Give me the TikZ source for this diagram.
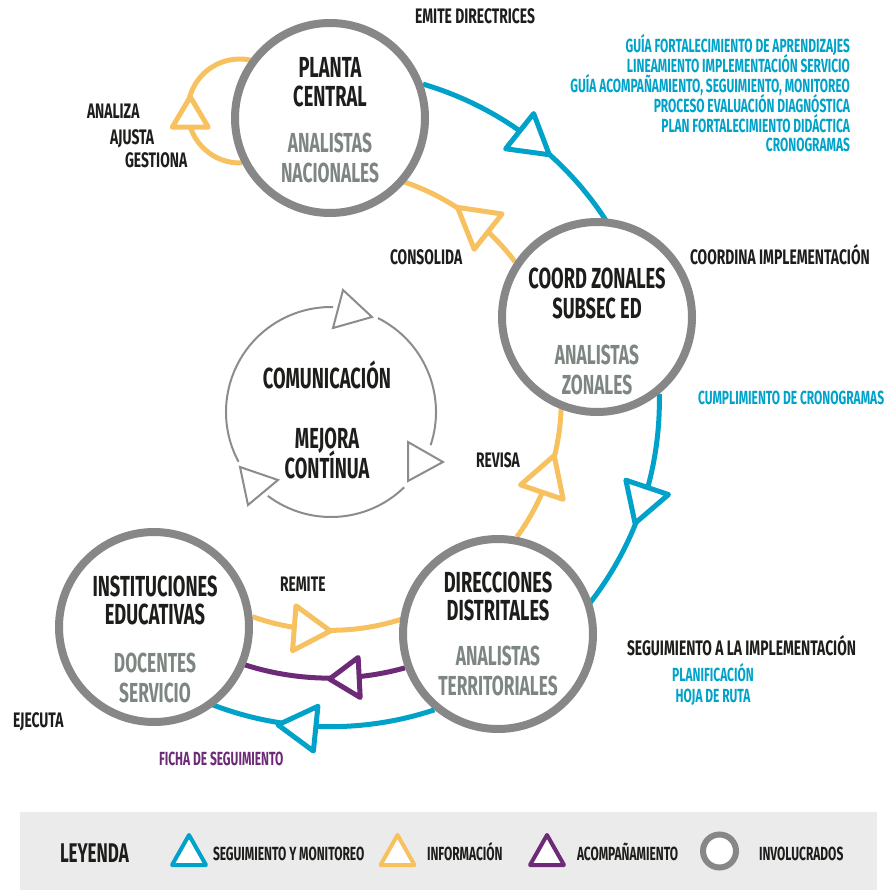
\documentclass[tikz,border=0pt]{standalone}
\usepackage{fontspec}
\newfontfamily\bb[FakeStretch=0.63]{Fira Sans}
\newfontfamily\bbw[FakeStretch=0.66]{Fira Sans}
\usetikzlibrary{calc}
\pgfdeclarelayer{bg}
\pgfsetlayers{bg,main}
\definecolor{txt}{HTML}{1D1D1B}
\definecolor{gtx}{HTML}{7E8681}
\definecolor{blu}{HTML}{00A2C9}
\definecolor{yel}{HTML}{F7C160}
\definecolor{pur}{HTML}{6D2A77}
\definecolor{cgr}{HTML}{878787}
\definecolor{lgr}{HTML}{8C8C8C}
\definecolor{legbg}{HTML}{EBEBEB}
\tikzset{
  txtbase/.style={inner sep=0pt, outer sep=0pt, text=txt},
  ttl/.style={txtbase, anchor=base, font=\bb\bfseries\fontsize{29}{29}\selectfont},
  subt/.style={txtbase, anchor=base, text=gtx, font=\bb\bfseries\fontsize{27.5}{27.5}\selectfont},
  lbl/.style={txtbase, anchor=base west, font=\bbw\bfseries\fontsize{21}{21}\selectfont},
  sml/.style={txtbase, font=\bb\bfseries\fontsize{19}{19}\selectfont},
  leglbl/.style={txtbase, anchor=base west, font=\bb\bfseries\fontsize{19}{19}\selectfont},
  actor/.style={circle, draw=cgr, line width=8pt, fill=white, minimum size=190pt, inner sep=0pt},
  bline/.style={draw=blu, line width=5pt},
  yline/.style={draw=yel, line width=5pt},
  pline/.style={draw=pur, line width=5pt},
  btri/.style={draw=blu, line width=5pt, line join=round, fill=white},
  ytri/.style={draw=yel, line width=5pt, line join=round, fill=white},
  ptri/.style={draw=pur, line width=5pt, line join=round, fill=white},
  cline/.style={draw=lgr, line width=2pt},
  ctri/.style={draw=lgr, line width=2pt, fill=white},
  legtri/.style={line width=4pt, line join=round, fill=white},
}
% style, centre, radius, base angle, tip angle, half width
\newcommand\arrtri[6]{%
  \path (#2) ++(#4:#3) coordinate (tb) (#2) ++(#5:#3) coordinate (tt);
  \draw[#1] ($(tb)!#6!90:(tt)$) -- (tt) -- ($(tb)!#6!-90:(tt)$) -- cycle;}
\begin{document}
\begin{tikzpicture}[x=1pt,y=1pt]
\useasboundingbox (0,0) rectangle (884,-890);

% involved actors
\node[actor] (pc) at (330,-118) {};
\node[actor] (cz) at (597,-317) {};
\node[actor] (dd) at (498,-634) {};
\node[actor] (ie) at (154,-627) {};
\coordinate (O) at (330,-400);
\coordinate (L) at (240,-112);
\coordinate (C) at (331,-412);

\begin{pgfonlayer}{bg}
  \fill[legbg] (20,-812) rectangle (877,-890);
  % seguimiento y monitoreo (blue)
  \draw[bline] (pc.20) arc[start angle=73.6, end angle=31, radius=329];
  \draw[bline] (cz.-51) arc[start angle=1.2, end angle=-39.5, radius=329];
  \draw[bline] (dd.-130) arc[start angle=-71.6, end angle=-113, radius=329];
  % informacion (yellow)
  \draw[yline] (cz.146) arc[start angle=37.1, end angle=73.5, radius=231];
  \draw[yline] (dd.79) arc[start angle=-36.1, end angle=-0.5, radius=231];
  \draw[yline] (ie.6) arc[start angle=-109.8, end angle=-70, radius=231];
  \draw[yline] (pc.207) arc[start angle=272.2, end angle=72, radius=52];
  % acompanamiento (purple)
  \draw[pline] (dd.200) arc[start angle=-74.4, end angle=-109.5, radius=279];
\end{pgfonlayer}

% arrow heads
\arrtri{btri}{O}{329}{54.8}{48.2}{22.5pt}
\arrtri{btri}{O}{329}{-15.4}{-22}{22.5pt}
\arrtri{btri}{O}{329}{-92.5}{-99.1}{22.5pt}
\arrtri{ytri}{O}{231}{46.8}{56.5}{22.5pt}
\arrtri{ytri}{O}{231}{-23.5}{-13.9}{22.5pt}
\arrtri{ytri}{O}{231}{-98.9}{-89.9}{22.5pt}
\arrtri{ytri}{L}{52}{197}{163}{18pt}
\arrtri{ptri}{O}{279}{-84}{-90.1}{20pt}

% communication cycle
\draw[cline] (C) ++(63.4:105) arc[start angle=63.4, end angle=-18.4, radius=105];
\draw[cline] (C) ++(-45.8:105) arc[start angle=-45.8, end angle=-127, radius=105];
\draw[cline] (C) ++(-151.7:105) arc[start angle=-151.7, end angle=-271.1, radius=105];
\draw[ctri] (343,-290) -- (372,-317) -- (333,-328) -- cycle;
\draw[ctri] (408,-442) -- (443,-462) -- (408,-481) -- cycle;
\draw[ctri] (240,-467) -- (278,-480) -- (248,-505) -- cycle;

% texts inside circles
\node[ttl] (pc1) at (330,-78) {PLANTA};
\node[ttl] (pc2) at (330,-107) {CENTRAL};
\node[subt] (pc3) at (330,-153) {ANALISTAS};
\node[subt] (pc4) at (330,-183) {NACIONALES};
\node[ttl] (cz1) at (597,-288) {COORD ZONALES};
\node[ttl] (cz2) at (597,-318) {SUBSEC ED};
\node[subt] (cz3) at (597,-364) {ANALISTAS};
\node[subt] (cz4) at (597,-394) {ZONALES};
\node[ttl] (dd1) at (498,-592) {DIRECCIONES};
\node[ttl] (dd2) at (498,-620) {DISTRITALES};
\node[subt] (dd3) at (498,-665) {ANALISTAS};
\node[subt] (dd4) at (498,-695) {TERRITORIALES};
\node[ttl] (ie1) at (155,-596) {INSTITUCIONES};
\node[ttl] (ie2) at (155,-624) {EDUCATIVAS};
\node[subt] (ie3) at (155,-672) {DOCENTES};
\node[subt] (ie4) at (155,-702) {SERVICIO};
\node[ttl] (cm1) at (327,-388) {COMUNICACIÓN};
\node[ttl] (cm2) at (327,-448) {MEJORA};
\node[ttl] (cm3) at (327,-478) {CONTÍNUA};

% labels
\node[lbl] (t1) at (415,-24) {EMITE DIRECTRICES};
\node[lbl] (t2) at (87,-119) {ANALIZA};
\node[lbl] (t3) at (110,-145) {AJUSTA};
\node[lbl] (t4) at (125,-168) {GESTIONA};
\node[lbl] (t5) at (390,-265) {CONSOLIDA};
\node[lbl] (t6) at (690,-265) {COORDINA IMPLEMENTACIÓN};
\node[lbl] (t7) at (476,-467) {REVISA};
\node[lbl] (t8) at (280,-591) {REMITE};
\node[lbl] (t9) at (13,-727) {EJECUTA};
\node[lbl] (t10) at (627,-655) {SEGUIMIENTO A LA IMPLEMENTACIÓN};
\node[sml, text=blu, anchor=base west] (t11) at (698,-404) {CUMPLIMIENTO DE CRONOGRAMAS};
\node[sml, text=blu, anchor=base] (t12) at (713,-681) {PLANIFICACIÓN};
\node[sml, text=blu, anchor=base] (t13) at (713,-702) {HOJA DE RUTA};
\node[sml, text=pur, anchor=base west] (t14) at (159,-765) {FICHA DE SEGUIMIENTO};
\node[sml, text=blu, anchor=base east] (b1) at (850,-53) {GUÍA FORTALECIMIENTO DE APRENDIZAJES};
\node[sml, text=blu, anchor=base east] (b2) at (850,-73) {LINEAMIENTO IMPLEMENTACIÓN SERVICIO};
\node[sml, text=blu, anchor=base east] (b3) at (850,-93) {GUÍA ACOMPAÑAMIENTO, SEGUIMIENTO, MONITOREO};
\node[sml, text=blu, anchor=base east] (b4) at (850,-113) {PROCESO EVALUACIÓN DIAGNÓSTICA};
\node[sml, text=blu, anchor=base east] (b5) at (850,-133) {PLAN FORTALECIMIENTO DIDÁCTICA};
\node[sml, text=blu, anchor=base east] (b6) at (850,-152) {CRONOGRAMAS};

% legend
\node[txtbase, anchor=base west, font=\bb\bfseries\fontsize{27}{27}\selectfont] (ley) at (60,-862) {LEYENDA};
\draw[legtri, draw=blu] (189,-835) -- (206,-865) -- (172,-865) -- cycle;
\node[leglbl] (l1) at (213,-860) {SEGUIMIENTO Y MONITOREO};
\draw[legtri, draw=yel] (397.5,-835) -- (414.5,-865) -- (380.5,-865) -- cycle;
\node[leglbl] (l2) at (427,-860) {INFORMACIÓN};
\draw[legtri, draw=pur] (547,-835) -- (564,-865) -- (530,-865) -- cycle;
\node[leglbl] (l3) at (577,-860) {ACOMPAÑAMIENTO};
\draw[draw=cgr, line width=6pt, fill=white] (719.5,-851) circle[radius=16.5];
\node[leglbl] (l4) at (759,-860) {INVOLUCRADOS};
\end{tikzpicture}
\end{document}
